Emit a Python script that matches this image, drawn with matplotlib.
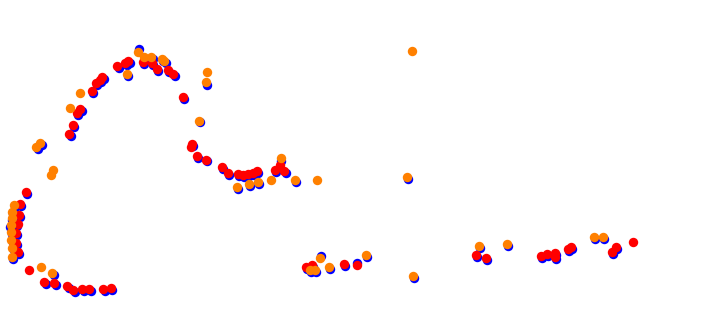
import matplotlib
matplotlib.use("Agg")
import matplotlib.pyplot as plt

# values (x, y)
blue_x = [27, 21, 15, 13, 20, 12, 10, 17, 12, 17, 13, 17, 14, 19, 13, 46, 56, 69, 75, 84, 91, 105, 112, 54,
          38, 42, 71, 74, 78, 82, 93, 97, 101, 104, 119, 127, 130, 128, 139, 145, 153, 144, 153, 163, 166, 158, 169, 175,
          184, 207, 200, 193, 198, 207, 223, 229, 239, 244, 249, 254, 258, 238, 250, 259, 276, 281, 286, 296, 408,
          307, 313, 311, 316, 321, 330, 345, 357, 367, 414,
          477, 480, 487, 508, 542, 548, 556, 556, 569, 572, 595, 604, 613, 617]
blue_y = [194, 206, 207, 214, 217, 220, 227, 226, 234, 235, 242, 245, 250, 254, 259, 284, 285, 288, 292, 291, 291, 291, 290, 275,
          149, 145, 136, 127, 115, 111, 93, 85, 82, 79, 68, 65, 63, 76, 49, 59, 59, 64, 65, 61, 63, 71, 72, 76,
          99, 85, 122, 146, 158, 161, 169, 175, 176, 177, 176, 175, 173, 189, 186, 184, 172, 161, 173, 182, 179,
          269, 267, 272, 272, 256, 269, 266, 263, 257, 278,
          257, 248, 260, 246, 258, 256, 255, 259, 251, 249, 239, 239, 254, 249]

red_x = [26, 20, 19, 18, 16, 16, 18, 29, 44, 54, 67, 73, 82, 89, 103, 111,
         69, 73, 77, 80, 92, 96, 100, 102, 117, 125, 128, 143, 152, 157, 168, 173, 183,
         192, 191, 197, 206, 222, 228, 238, 243, 248, 253, 257, 275, 280, 284,
         306, 312, 344, 357,
         476, 486, 541, 547, 555, 555, 568, 571, 612, 616, 633]
red_y = [192, 204, 215, 224, 233, 243, 252, 270, 282, 283, 286, 290, 289, 289, 289, 288,
         134, 125, 113, 109, 91, 83, 80, 77, 66, 63, 61, 62, 63, 69, 70, 74, 97,
         144, 147, 156, 160, 167, 173, 174, 175, 174, 173, 171, 170, 165, 171,
         267, 265, 264, 265,
         255, 258, 256, 254, 253, 257, 249, 247, 252, 247, 242]

orange_x = [14, 12, 12, 11, 11, 11, 12, 12, 41, 52, 53, 51, 36, 40, 70, 80, 127, 138, 144, 151, 162, 164,
            207, 206, 199, 237, 249, 258, 271, 281, 295, 317, 412, 407,
            310, 315, 320, 329, 366, 413, 479, 507, 594, 603]
orange_y = [205, 212, 218, 225, 232, 240, 248, 257, 267, 273, 170, 175, 147, 143, 108, 93, 74, 52, 57, 57, 59, 61,
            72, 82, 121, 187, 184, 182, 180, 158, 180, 180, 51, 177,
            270, 270, 258, 267, 255, 276, 246, 244, 237, 237]

fig = plt.figure(figsize=(7.14, 3.10), dpi=100)
ax = fig.add_axes([0, 0, 1, 1])
ms = 46
ax.scatter(blue_x, blue_y, s=ms, c="#0000ff", linewidths=0)
ax.scatter(red_x, red_y, s=ms, c="#ff0000", linewidths=0)
ax.scatter(orange_x, orange_y, s=ms, c="#ff8000", linewidths=0)
ax.set_xlim(0, 714)
ax.set_ylim(310, 0)
ax.axis("off")
fig.savefig("out.png", dpi=100)
